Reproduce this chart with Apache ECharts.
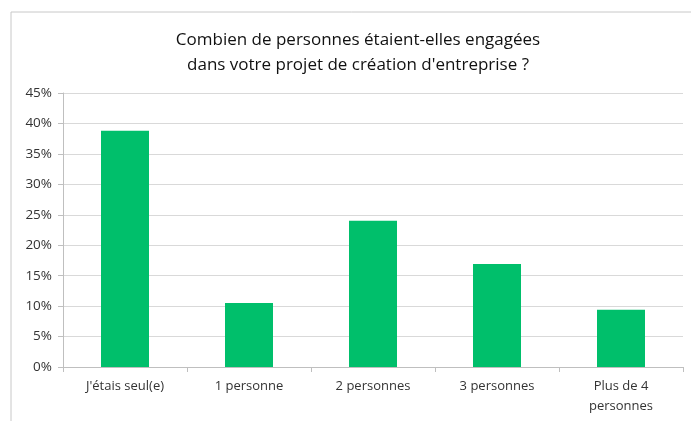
<!DOCTYPE html>
<html>
<head>
<meta charset="utf-8">
<script src="https://cdn.jsdelivr.net/npm/echarts@6/dist/echarts.min.js"></script>
<style>
    html, body { margin: 0; padding: 0; background: #fff; }
    #chart { width: 691px; height: 421px; }
</style>
</head>
<body>
<div id="chart"></div>
<script>
// categories and shares
var categories = ["J'étais seul(e)", "1 personne", "2 personnes", "3 personnes", "Plus de 4\npersonnes"];
var shares = [0.388, 0.105, 0.240, 0.169, 0.094];
var titleText = "Combien de personnes étaient-elles engagées\ndans votre projet de création d'entreprise ?";

var chart = echarts.init(document.getElementById("chart"));
var font = "'Open Sans', 'Noto Sans', sans-serif";

chart.setOption({
    animation: false,
    textStyle: { fontFamily: font },
    title: {
        text: titleText,
        left: 353,
        top: 23,
        textAlign: "center",
        textStyle: {
            fontFamily: font,
            fontSize: 17,
            fontWeight: "normal",
            color: "#111",
            lineHeight: 25,
        },
    },
    graphic: [
        {
            type: "rect",
            shape: { x: 11, y: 12, width: 700, height: 430 },
            style: { fill: "none", stroke: "#c8c8c8", lineWidth: 1 },
            silent: true,
        },
    ],
    grid: {
        left: 63,
        right: 8,
        top: 93,
        bottom: 54,
    },
    xAxis: {
        type: "category",
        data: categories,
        axisLine: { lineStyle: { color: "#bfbfbf" } },
        axisTick: { show: true, alignWithLabel: false, length: 5, lineStyle: { color: "#bfbfbf" } },
        axisLabel: {
            interval: 0,
            margin: 9,
            fontSize: 13,
            color: "#333",
            lineHeight: 20,
        },
    },
    yAxis: {
        type: "value",
        min: 0,
        max: 0.45,
        interval: 0.05,
        axisLine: { show: true, lineStyle: { color: "#bfbfbf" } },
        axisTick: { show: true, length: 5, lineStyle: { color: "#bfbfbf" } },
        splitLine: { lineStyle: { color: "#d9d9d9" } },
        axisLabel: {
            margin: 11,
            fontSize: 13.5,
            color: "#333",
            formatter: function (v) {
                return Math.round(v * 100) + "%";
            },
        },
    },
    series: [
        {
            type: "bar",
            data: shares,
            barWidth: 48,
            itemStyle: { color: "#00bf6b" },
        },
    ],
});
</script>
</body>
</html>
